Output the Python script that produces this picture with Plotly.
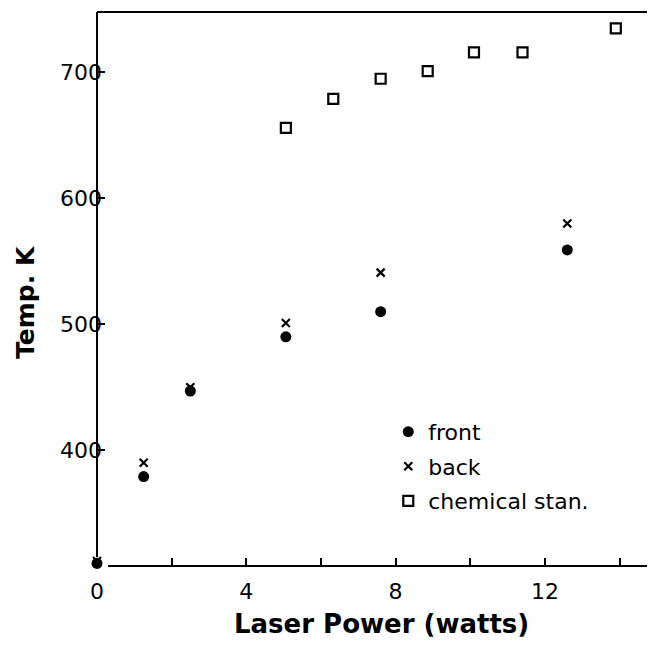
import plotly.graph_objects as go

# Data
front_x = [0, 1.25, 2.5, 5.06, 7.6, 12.6]
front_y = [310, 379, 447, 490, 510, 559]
back_x = [0, 1.25, 2.5, 5.06, 7.6, 12.6]
back_y = [312, 390, 450, 501, 541, 580]
chem_x = [5.06, 6.33, 7.6, 8.86, 10.1, 11.4, 13.9]
chem_y = [656, 679, 695, 701, 716, 716, 735]

x_tickvals = [0, 2, 4, 6, 8, 10, 12, 14]
x_ticktext = ["0", "", "4", "", "8", "", "12", ""]
y_tickvals = [400, 500, 600, 700]
y_ticktext = ["400", "500", "600", "700"]

FONT = "DejaVu Sans"

fig = go.Figure()
fig.add_trace(go.Scatter(
    x=front_x, y=front_y, mode="markers", name="front",
    marker=dict(symbol="circle", size=11, color="black"),
    cliponaxis=False, legendgroup="a"))
fig.add_trace(go.Scatter(
    x=back_x, y=back_y, mode="markers", name="back",
    marker=dict(symbol="x-thin", size=8, color="black",
                line=dict(color="black", width=2.2)),
    cliponaxis=False, legendgroup="b"))
fig.add_trace(go.Scatter(
    x=chem_x, y=chem_y, mode="markers", name="chemical stan.",
    marker=dict(symbol="square-open", size=10, color="black",
                line=dict(color="black", width=2.2)),
    cliponaxis=False, legendgroup="c"))

fig.update_layout(
    width=647, height=641,
    margin=dict(l=89, r=0, t=4, b=83),
    plot_bgcolor="white", paper_bgcolor="white",
    font=dict(family=FONT, size=22, color="black"),
    showlegend=True,
    legend=dict(x=0.522, y=0.28, xanchor="left", yanchor="top",
                font=dict(family=FONT, size=22, color="black"),
                bgcolor="rgba(0,0,0,0)", tracegroupgap=3,
                itemsizing="trace"),
    xaxis=dict(range=[0, 14.95], showgrid=False, zeroline=False, showline=False,
               tickmode="array", tickvals=x_tickvals, ticktext=x_ticktext,
               ticks="inside", ticklen=8, tickwidth=1.6, tickcolor="black",
               ticklabelstandoff=10,
               tickfont=dict(family=FONT, size=22, color="black")),
    yaxis=dict(range=[308, 748], showgrid=False, zeroline=False, showline=False,
               tickmode="array", tickvals=y_tickvals, ticktext=y_ticktext,
               ticks="inside", ticklen=8, tickwidth=1.6, tickcolor="black",
               ticklabelstandoff=-6,
               tickfont=dict(family=FONT, size=22, color="black")),
    shapes=[
        dict(type="line", xref="paper", yref="paper", x0=0, x1=0, y0=0.016, y1=1,
             line=dict(color="black", width=2)),
        dict(type="line", xref="paper", yref="paper", x0=0, x1=1, y0=1, y1=1,
             line=dict(color="black", width=2)),
        dict(type="line", xref="paper", yref="paper", x0=0.02, x1=1, y0=0, y1=0,
             line=dict(color="black", width=2)),
    ],
    annotations=[
        dict(text="<b>Laser Power (watts)</b>", xref="paper", yref="paper",
             x=0.509, y=-0.074, xanchor="center", yanchor="top", showarrow=False,
             font=dict(family=FONT, size=26, color="black")),
        dict(text="<b>Temp. K</b>", xref="paper", yref="paper",
             x=-0.128, y=0.476, xanchor="center", yanchor="middle", showarrow=False,
             textangle=-90, font=dict(family=FONT, size=25, color="black")),
    ],
)

fig.write_html("out.html")
